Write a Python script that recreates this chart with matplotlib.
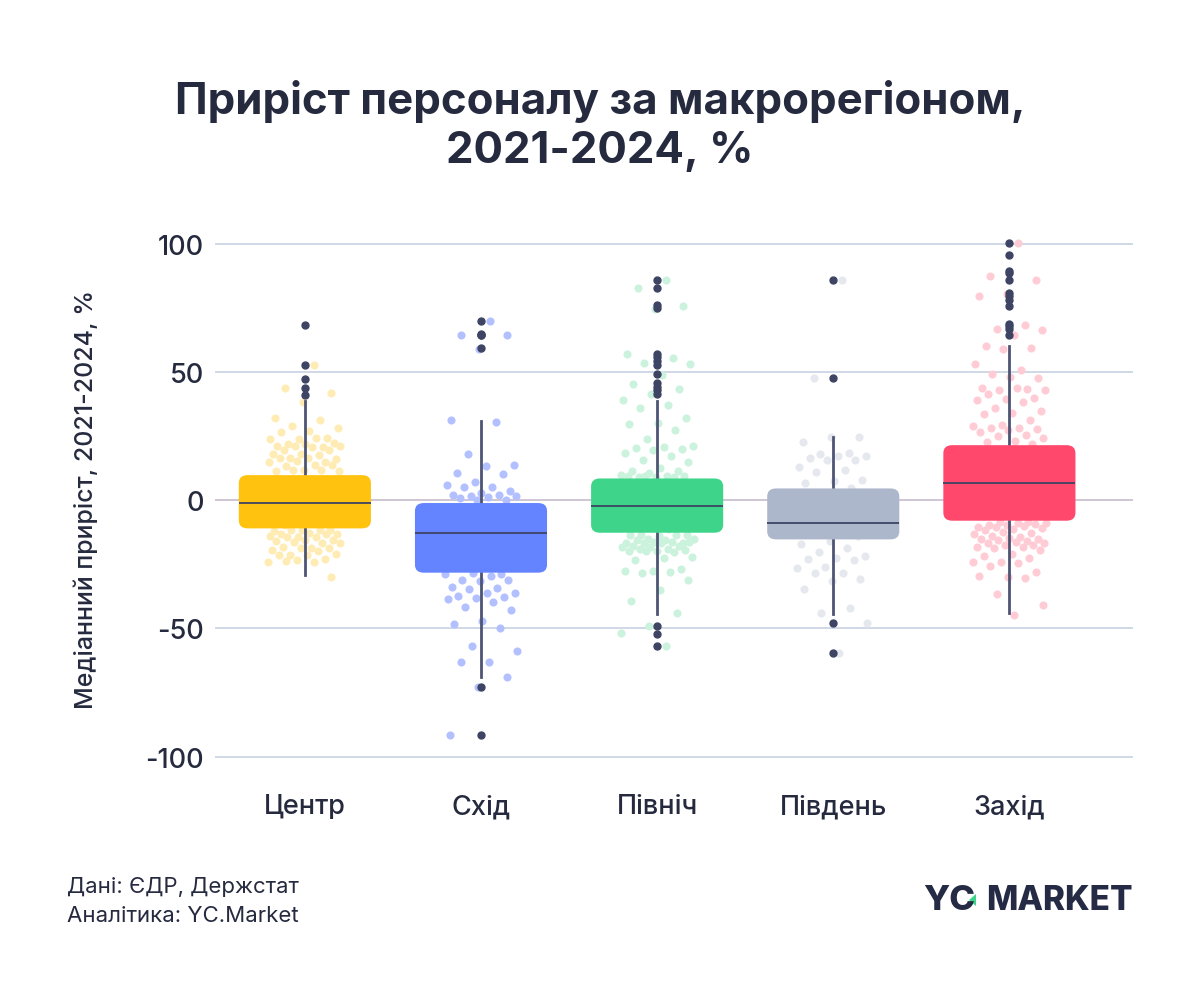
import matplotlib
matplotlib.use("Agg")
import matplotlib.pyplot as plt
from matplotlib.patches import FancyBboxPatch, Polygon
import numpy as np

plt.rcParams['font.family'] = ['Inter', 'DejaVu Sans']

# ---------------- data ----------------
categories = ["Центр", "Схід", "Північ", "Південь", "Захід"]

centr_pts = [53.1, 44.1, 42.0, 38.5, 32.4, 31.5, 29.2, 28.5, 27.0, 26.6, 24.3, 24.0, 24.2, 24.4,
             22.1, 22.3, 21.9, 21.2, 21.0, 21.4, 21.3, 20.9, 19.6, 19.8, 18.1, 18.3, 17.9,
             16.4, 16.2, 16.6, 16.5, 15.1, 15.3, 14.9, 13.8, 13.6, 14.0, 11.8, 11.6, 12.0, 11.9,
             11.7, 8.5, 7.2, 6.0, 4.8, 3.5, 2.1, 1.0, -0.5, -1.8, -3.0, -4.4, -5.7, -7.0, -8.3,
             -9.5, -11.6, -11.4, -11.8, -11.5, -11.7, -12.9, -12.7, -13.1, -13.0, -14.2, -14.0,
             -14.4, -14.3, -15.5, -15.3, -15.7, -16.5, -16.3, -16.7, -18.5, -18.3, -18.7, -18.6,
             -19.5, -19.7, -21.1, -20.9, -21.3, -21.2, -22.9, -23.1, -23.9, -24.1, -23.7, -29.7]
skhid_pts = [70.0, 64.8, 64.5, 59.3, 31.5, 30.5, 18.1, 13.8, 13.6, 10.7, 10.5, 7.3, 6.0, 5.1, 5.3,
             3.8, 3.0, 2.3, 2.1, 1.9, 1.7, 1.4, 1.0, 0.1, 0.3, -5.0, -9.0, -13.0, -17.0, -21.0,
             -25.0, -28.6, -28.4, -28.8, -29.4, -31.1, -30.9, -31.3, -33.8, -34.1, -34.6, -36.3,
             -36.1, -37.2, -37.6, -38.2, -38.4, -39.8, -41.5, -42.8, -47.0, -48.3, -49.9, -56.7,
             -58.9, -63.2, -63.0, -68.9, -72.8, -91.5]
pivnich_pts = [86.2, 83.0, 75.8, 74.9, 57.4, 55.7, 53.7, 53.2, 48.9, 45.4, 43.7, 41.5, 39.4, 37.2,
               36.3, 32.4, 30.2, 29.8, 27.6, 24.0, 21.1, 20.7, 20.5, 20.1, 19.8, 18.6, 17.2, 15.9,
               15.1, 12.5, 11.6, 11.4, 10.8, 10.1, 9.4, 9.2, 9.6, 9.3, 9.5, 9.1, 9.7, 6.5, 3.0,
               0.5, -2.0, -5.0, -8.0, -11.0, -13.5, -13.3, -13.7, -13.4, -13.6, -15.2, -15.0,
               -15.4, -15.3, -16.5, -16.3, -16.7, -16.4, -16.6, -16.2, -16.8, -17.9, -17.7,
               -18.1, -18.0, -19.0, -18.8, -19.2, -19.8, -19.6, -20.0, -19.9, -22.0, -22.4,
               -23.3, -26.8, -27.6, -27.4, -28.1, -28.3, -31.1, -35.0, -39.4, -44.1, -48.9,
               -51.6, -56.8]
pivden_pts = [86.2, 48.0, 24.8, 24.6, 22.7, 18.4, 18.2, 17.5, 17.3, 16.6, 15.9, 15.7, 12.9, 12.0,
              11.0, 8.1, 7.7, 6.8, 4.8, 1.0, -3.0, -7.0, -11.0, -14.0, -16.0, -16.9, -18.5, -20.3,
              -21.6, -22.6, -22.8, -23.4, -26.0, -26.4, -28.2, -28.5, -30.7, -31.6, -34.6, -42.0,
              -44.1, -48.0, -59.4]
zakhid_pts = [100.6, 87.8, 86.2, 80.6, 79.7, 68.7, 67.1, 66.7, 64.5, 60.5, 59.6, 59.3, 53.5, 51.0,
              49.3, 48.0, 48.2, 43.9, 43.5, 43.3, 43.1, 44.1, 41.5, 40.2, 39.6, 39.2, 38.3, 36.1,
              34.8, 34.0, 33.6, 31.4, 29.6, 29.2, 28.5, 28.3, 27.9, 27.5, 26.6, 25.5, 25.0, 24.4,
              23.3, 22.7, 22.2, 18.0, 14.0, 10.0, 6.0, 2.0, -2.0, -6.0, -8.6, -8.4, -8.8, -8.7,
              -9.4, -9.2, -9.6, -10.3, -10.1, -10.5, -10.9, -11.1, -11.6, -12.7, -12.5, -12.9,
              -14.2, -14.0, -14.9, -14.7, -15.1, -15.7, -15.5, -16.5, -16.3, -16.7, -17.5,
              -17.3, -18.3, -18.1, -18.5, -19.4, -20.9, -21.7, -22.4, -24.0, -24.2, -24.4,
              -25.6, -28.0, -29.8, -29.6, -30.2, -36.4, -40.9, -44.8]
points = [centr_pts, skhid_pts, pivnich_pts, pivden_pts, zakhid_pts]

medians = [-0.8, -12.7, -2.2, -8.7, 6.9]
q1s = [-10.9, -28.2, -12.6, -15.2, -7.9]
q3s = [9.9, -1.0, 8.6, 4.7, 21.6]
whis_lo = [-29.1, -69.0, -44.3, -44.3, -44.1]
whis_hi = [38.9, 30.9, 38.9, 24.6, 60.2]
fliers = [
    [68.7, 53.1, 47.6, 44.1, 41.3],
    [70.0, 65.2, 64.8, 64.5, 59.6, -72.8, -91.5],
    [86.2, 83.0, 76.2, 75.2, 57.4, 55.9, 54.6, 53.0, 49.3, 45.7, 44.4, 43.2, 41.7, -48.9, -52.0, -56.8],
    [86.2, 48.0, -48.0, -59.4],
    [100.6, 95.8, 89.8, 88.8, 86.2, 81.0, 79.7, 78.5, 75.8, 69.0, 68.0, 67.1, 64.5],
]

yticks = [-100, -50, 0, 50, 100]

# ---------------- style ----------------
box_colors = ['#FFC20E', '#6483FF', '#3ED58A', '#ADB7CB', '#FF486B']
pt_colors = ['#FFECB5', '#B3C0FF', '#CBF2DD', '#E6E8EF', '#FFCCD6']
dark = '#3E4463'
text_c = '#252A3F'
grid_c = '#C8D2E2'

fig = plt.figure(figsize=(12, 9.95), dpi=100)
ax = fig.add_axes([0.1792, 0.2284, 0.7647, 0.5352])
ax.set_xlim(-0.51, 4.70)
ax.set_ylim(-104, 104)

for s in ax.spines.values():
    s.set_visible(False)
ax.set_yticks(yticks)
ax.set_yticklabels([str(t) for t in yticks])
ax.set_xticks(range(len(categories)))
ax.set_xticklabels(categories)
ax.tick_params(axis='both', length=0, labelsize=19.5, labelcolor=text_c)
for lab in ax.get_xticklabels() + ax.get_yticklabels():
    lab.set_fontweight('medium')
ax.tick_params(axis='y', pad=8)
ax.tick_params(axis='x', pad=19)
ax.yaxis.grid(True, color=grid_c, linewidth=1.2, zorder=0)
ax.set_axisbelow(True)
ax.axhline(0, color='#F27D8E', linewidth=1.2, zorder=0.5)

# jittered points (deterministic low-discrepancy spread)
phi = 0.6180339887
for i, vals in enumerate(points):
    n = len(vals)
    offs = (((np.arange(n) + 1) * phi) % 1.0 - 0.5) * 0.42
    ax.scatter(i + offs, vals, s=34, color=pt_colors[i], linewidths=0, zorder=1)

# whiskers, medians, fliers through bxp
stats = []
for i in range(len(categories)):
    stats.append(dict(med=medians[i], q1=q1s[i], q3=q3s[i], whislo=whis_lo[i],
                      whishi=whis_hi[i], fliers=fliers[i], label=categories[i]))
ax.bxp(stats, positions=range(len(categories)), widths=0.75, showbox=False, showcaps=False,
       whiskerprops=dict(color='#4E5574', linewidth=2.0, zorder=2),
       medianprops=dict(color=dark, linewidth=1.3, zorder=4),
       flierprops=dict(marker='o', markersize=5, markerfacecolor=dark, markeredgecolor=dark, zorder=4),
       manage_ticks=False)

# rounded boxes
bw = 0.75
for i in range(len(categories)):
    box = FancyBboxPatch((i - bw / 2, q1s[i]), bw, q3s[i] - q1s[i],
                         boxstyle="round,pad=0,rounding_size=0.05",
                         mutation_aspect=62, facecolor=box_colors[i], edgecolor='none', zorder=3)
    ax.add_patch(box)

# texts
fig.text(0.5, 1 - 126 / 995, "Приріст персоналу за макрорегіоном,\n2021-2024, %",
         ha='center', va='center', fontsize=31.5, fontweight='bold', color=text_c, linespacing=1.22)
fig.text(86 / 1200, 1 - 499 / 995, "Медіанний приріст, 2021-2024, %", rotation=90,
         ha='center', va='center', fontsize=18, fontweight='medium', color=text_c)
fig.text(67 / 1200, 1 - 887 / 995, "Дані: ЄДР, Держстат", ha='left', va='center',
         fontsize=16, color=text_c)
fig.text(67 / 1200, 1 - 916 / 995, "Аналітика: YC.Market", ha='left', va='center',
         fontsize=16, color=text_c)
yc = fig.text(923 / 1200, 1 - 901 / 995, "YC", ha='left', va='center',
              fontsize=25, fontweight='heavy', color='#262B45')
fig.text(1133 / 1200, 1 - 901 / 995, "MARKET", ha='right', va='center',
         fontsize=24, fontweight='heavy', color='#262B45')
fig.canvas.draw()
bb = yc.get_window_extent()
cx = bb.x1 / 1200.0
cy = (bb.y0 + bb.y1) / 2 / 995.0
tri = Polygon([[cx + 1 / 1200, cy + 6 / 995], [cx + 1 / 1200, cy - 6 / 995], [cx - 6 / 1200, cy]],
              closed=True, transform=fig.transFigure, facecolor='#3ED58A', edgecolor='none')
fig.patches.append(tri)

fig.savefig("out.png", dpi=100, facecolor='white')
